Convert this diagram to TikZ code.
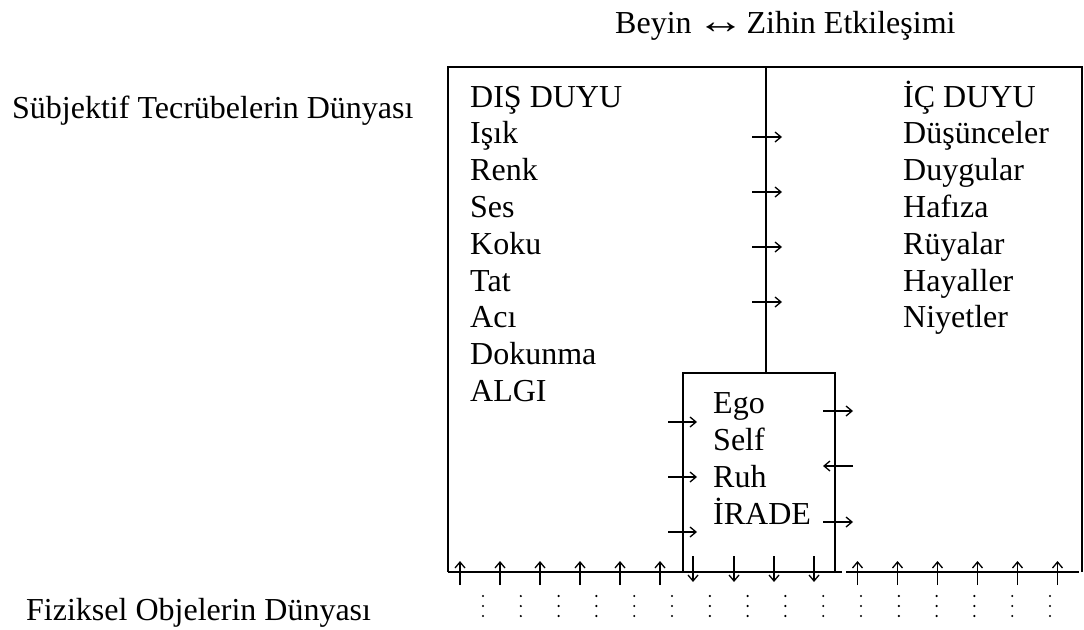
\documentclass[tikz,border=0pt]{standalone}
\usepackage{fontspec}
\usepackage{graphicx}
\setmainfont{Liberation Serif}
\usetikzlibrary{arrows.meta}
\begin{document}
\begin{tikzpicture}[x=1pt,y=-1pt,
  frame/.style={line width=2pt},
  tick/.style={line width=1.3pt,-{Straight Barb[length=6pt,width=10pt,line width=1.3pt]}},
  lbl/.style={anchor=base west,inner sep=0pt,font=\fontsize{32}{36.8}\selectfont},
  col/.style={lbl,align=left},
  dot/.style={fill=black,circle,inner sep=0pt,minimum size=2.4pt}]
\useasboundingbox (0,0) rectangle (1084,629);

% titles
\node[lbl] (top) at (615,33) {Beyin\kern-3pt\ \scalebox{1.5}[1.15]{↔}\kern-6pt\ Zihin Etkileşimi};
\node[lbl] (subj) at (12,118) {Sübjektif Tecrübelerin Dünyası};
\node[lbl] (phys) at (26,620) {Fiziksel Objelerin Dünyası};

% outer frame and divider
\coordinate (tl) at (448,67);
\coordinate (tr) at (1082,67);
\coordinate (bl) at (448,572);
\coordinate (br) at (1082,572);
\coordinate (dt) at (766,67);
\coordinate (db) at (766,373);
\draw[frame] (bl) -- (tl) -- (tr) -- (br);
\draw[frame] (bl) -- (842,572);
\draw[frame] (846,572) -- (1079,572);
\draw[frame] (dt) -- (db);

% inner box
\coordinate (el) at (683,373);
\coordinate (er) at (835,373);
\draw[frame] (683,572) -- (el) -- (er) -- (835,572);

% text columns
\node[col] (outer) at (470,107) {DIŞ DUYU};
\foreach \t [count=\i] in {Işık,Renk,Ses,Koku,Tat,Acı,Dokunma,ALGI}
  \node[lbl] (o\i) at (470,107+36.8*\i) {\t};
\node[lbl] (inner) at (903,107) {İÇ DUYU};
\foreach \t [count=\i] in {Düşünceler,Duygular,Hafıza,Rüyalar,Hayaller,Niyetler}
  \node[lbl] (n\i) at (903,107+36.8*\i) {\t};
\foreach \t [count=\i] in {Ego,Self,Ruh,İRADE}
  \node[lbl] (e\i) at (713,413.3+36.9*\i-36.9) {\t};

% arrows across the divider
\foreach \y in {137,192,247,302}
  \draw[tick] (752,\y) -- (782,\y);

% arrows at the inner box
\foreach \y in {422,477,532}
  \draw[tick] (668,\y) -- (697,\y);
\draw[tick] (823,411) -- (853,411);
\draw[tick] (853,466) -- (823,466);
\draw[tick] (823,522) -- (853,522);

% arrows along the base
\foreach \x in {460,500,540,580,620,660,857.5,897.5,937.5,977.5,1017.5,1057.5}
  \draw[tick] (\x,585) -- (\x,561);
\foreach \x in {693,734,774,814}
  \draw[tick] (\x,556) -- (\x,582);

% dotted columns
\foreach \k in {0,...,15}
  \foreach \y in {596,606,616}
    \node[dot] at (483+37.8*\k,\y) {};
\end{tikzpicture}
\end{document}
